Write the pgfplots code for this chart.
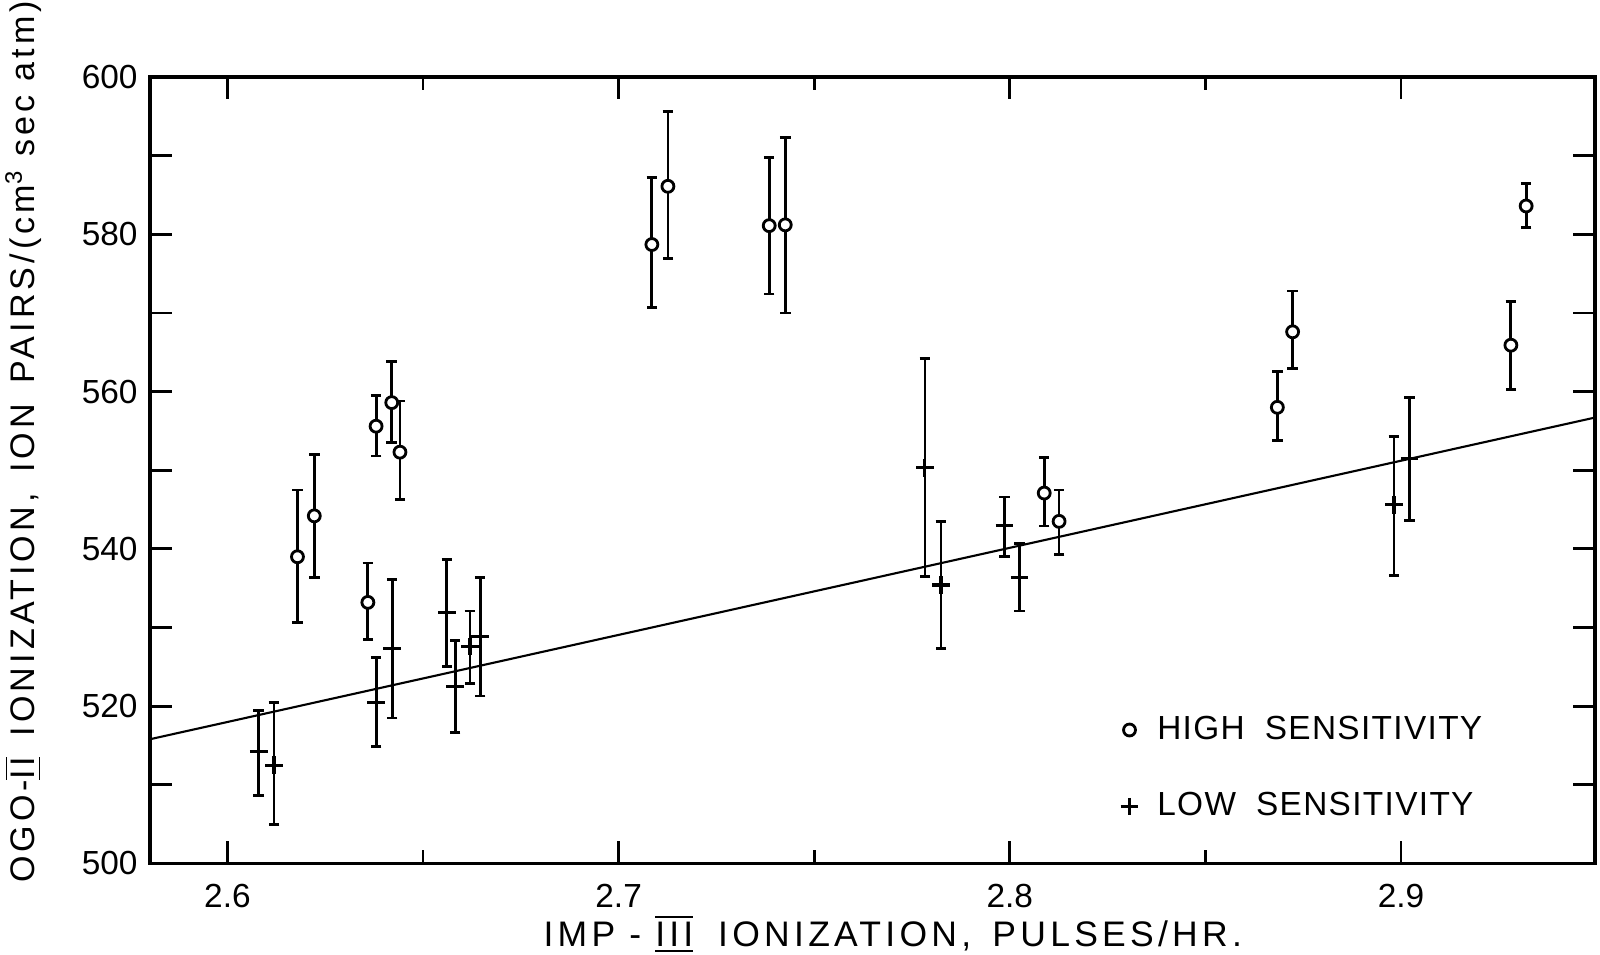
\documentclass[border=0pt]{standalone}
\usepackage{fontspec}
\setmainfont{Liberation Sans}
\newfontfamily\lblfont[LetterSpace=12]{Liberation Sans}
\newfontfamily\legfont[LetterSpace=4]{Liberation Sans}
\usepackage{pgfplots}
\usepackage{pgfplotstable}
\pgfplotsset{compat=1.18}
\newcommand\rn[1]{\ensuremath{\overline{\underline{\mbox{#1}}}}}

\pgfplotstableread{
x y ep em
2.6179 539.0 8.5 8.4
2.6222 544.2 7.8 7.8
2.6359 533.2 5.0 4.7
2.6380 555.6 3.9 3.8
2.6420 558.6 5.2 5.1
2.6441 552.3 6.5 6.0
2.7085 578.7 8.5 8.0
2.7126 586.1 9.5 9.2
2.7385 581.1 8.7 8.7
2.7426 581.2 11.1 11.2
2.8088 547.1 4.5 4.2
2.8126 543.5 4.0 4.2
2.8684 558.0 4.6 4.2
2.8723 567.6 5.2 4.7
2.9281 565.9 5.6 5.6
2.9320 583.6 2.9 2.7
}\high

\pgfplotstableread{
x y ep em
2.6080 514.2 5.3 5.6
2.6119 512.5 8.0 7.5
2.6380 520.5 5.7 5.6
2.6421 527.3 8.8 8.8
2.6561 531.9 6.8 6.9
2.6582 522.5 5.9 5.8
2.6620 527.6 4.5 4.7
2.6646 528.9 7.5 7.6
2.7783 550.3 13.9 13.8
2.7824 535.4 8.1 8.1
2.7986 543.0 3.6 4.0
2.8025 536.4 4.3 4.3
2.8982 545.6 8.7 9.0
2.9022 551.5 7.7 7.9
}\low

\begin{document}
\begin{tikzpicture}
\begin{axis}[
  name=ax,
  scale only axis,
  width=14.45cm, height=7.865cm,
  xmin=2.5802, xmax=2.9496,
  ymin=500, ymax=600,
  axis line style={line width=1pt},
  tick align=inside,
  tick pos=both,
  major tick length=0.22cm,
  minor tick length=0.13cm,
  every tick/.style={black, line width=0.8pt},
  xtick={2.6,2.7,2.8,2.9},
  minor x tick num=1,
  ytick={500,520,540,560,580,600},
  extra y ticks={510,530,550,570,590},
  extra y tick labels={},
  /pgf/number format/assume math mode=true,
  xticklabel style={/pgf/number format/fixed, /pgf/number format/precision=1, /pgf/number format/fixed zerofill, font=\fontsize{9.5}{11}\selectfont, yshift=-2.3pt},
  yticklabel style={font=\fontsize{9.5}{11}\selectfont},
  xlabel={IMP - \rn{III}\hspace{0.7em}IONIZATION,\hspace{0.6em}PULSES/HR.},
  ylabel={OGO-\rn{II}\hspace{0.6em}IONIZATION,\hspace{0.6em}ION\hspace{0.6em}PAIRS/(cm\textsuperscript{3} sec atm)},
  xlabel style={font=\lblfont\fontsize{10.1}{12}\selectfont, at={(axis description cs:0.514,-0.0896)}, anchor=center},
  ylabel style={font=\lblfont\fontsize{9.7}{12}\selectfont, at={(axis description cs:-0.0879,0.536)}, anchor=center},
  legend cell align=left,
  legend style={draw=none, fill=none, at={(axis description cs:0.664,0.121)}, anchor=west,
    font=\legfont\fontsize{9.5}{11}\selectfont, row sep=0.34cm,
    /tikz/every odd column/.append style={column sep=0.12cm}},
  error bars/error bar style={line width=0.8pt},
  error bars/error mark options={rotate=90, mark size=1.5pt, line width=0.8pt},
]
\addplot[black, line width=0.6pt, forget plot] coordinates {(2.5802,515.8) (2.9496,556.7)};
\addplot[black, only marks, mark=*, mark size=1.7pt, mark options={fill=white, line width=0.8pt},
  error bars/.cd, y dir=both, y explicit]
  table[x=x, y=y, y error plus=ep, y error minus=em] {\high};
\addlegendentry{HIGH\hspace{0.6em}SENSITIVITY}
\addplot[black, only marks, mark=+, mark size=2.5pt, mark options={line width=0.9pt},
  error bars/.cd, y dir=both, y explicit]
  table[x=x, y=y, y error plus=ep, y error minus=em] {\low};
\addlegendentry{LOW\hspace{0.6em}SENSITIVITY}
\end{axis}
\pgfresetboundingbox
\path ([xshift=-1.5cm,yshift=-0.915cm]ax.south west) rectangle ([xshift=0.05cm,yshift=0.77cm]ax.north east);
\end{tikzpicture}
\end{document}
